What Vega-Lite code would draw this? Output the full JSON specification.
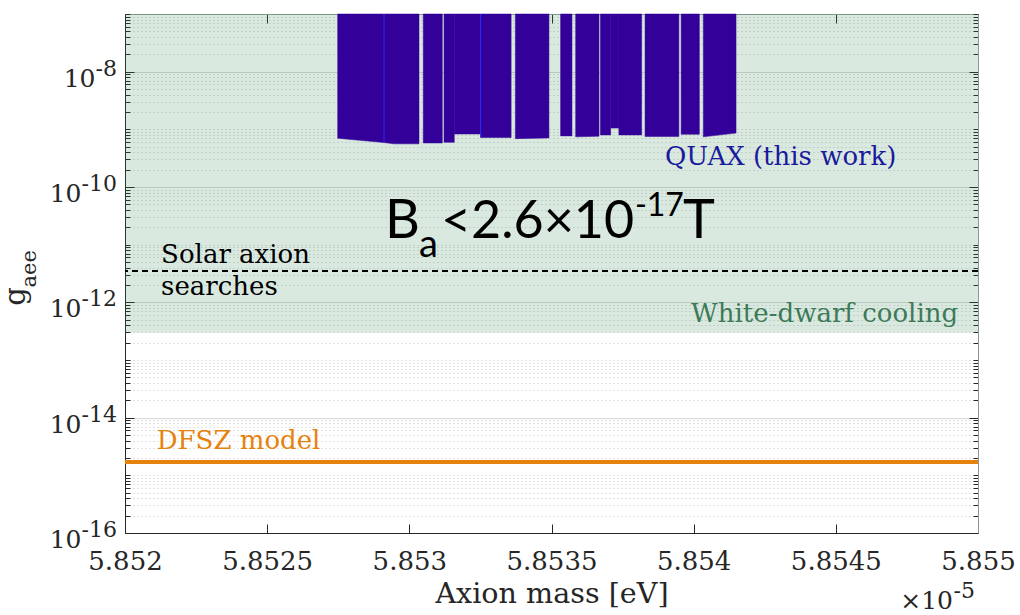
{
  "$schema": "https://vega.github.io/schema/vega-lite/v6.json",
  "autosize": "none",
  "width": 853,
  "height": 519,
  "padding": {"left": 125, "top": 14, "right": 42, "bottom": 82},
  "background": "white",
  "config": {"view": {"stroke": "#262626", "strokeWidth": 1}},
  "datasets": {
    "region": [{"m0": 5.852, "m1": 5.855, "g0": 3e-13, "g1": 1e-7}],
    "quax": [
      {"seg": "A", "m": 5.852748, "g": 7.0e-10, "gtop": 1e-7},
      {"seg": "A", "m": 5.852911, "g": 5.9e-10, "gtop": 1e-7},
      {"seg": "B", "m": 5.852911, "g": 5.9e-10, "gtop": 1e-7},
      {"seg": "B", "m": 5.852945, "g": 5.6e-10, "gtop": 1e-7},
      {"seg": "B", "m": 5.853034, "g": 5.6e-10, "gtop": 1e-7},
      {"seg": "C", "m": 5.853049, "g": 5.8e-10, "gtop": 1e-7},
      {"seg": "C", "m": 5.853116, "g": 5.8e-10, "gtop": 1e-7},
      {"seg": "D1", "m": 5.853122, "g": 5.95e-10, "gtop": 1e-7},
      {"seg": "D1", "m": 5.853158, "g": 5.95e-10, "gtop": 1e-7},
      {"seg": "D2", "m": 5.853158, "g": 8.3e-10, "gtop": 1e-7},
      {"seg": "D2", "m": 5.853251, "g": 8.3e-10, "gtop": 1e-7},
      {"seg": "E", "m": 5.853251, "g": 7.2e-10, "gtop": 1e-7},
      {"seg": "E", "m": 5.853358, "g": 7.2e-10, "gtop": 1e-7},
      {"seg": "F", "m": 5.853373, "g": 6.9e-10, "gtop": 1e-7},
      {"seg": "F", "m": 5.853491, "g": 7.1e-10, "gtop": 1e-7},
      {"seg": "G", "m": 5.853532, "g": 7.7e-10, "gtop": 1e-7},
      {"seg": "G", "m": 5.853572, "g": 7.7e-10, "gtop": 1e-7},
      {"seg": "H", "m": 5.853585, "g": 7.4e-10, "gtop": 1e-7},
      {"seg": "H", "m": 5.853667, "g": 7.6e-10, "gtop": 1e-7},
      {"seg": "I1", "m": 5.853672, "g": 8.0e-10, "gtop": 1e-7},
      {"seg": "I1", "m": 5.853708, "g": 8.0e-10, "gtop": 1e-7},
      {"seg": "I2", "m": 5.853708, "g": 1.05e-9, "gtop": 1e-7},
      {"seg": "I2", "m": 5.853737, "g": 1.05e-9, "gtop": 1e-7},
      {"seg": "I3", "m": 5.853737, "g": 8.0e-10, "gtop": 1e-7},
      {"seg": "I3", "m": 5.853817, "g": 8.0e-10, "gtop": 1e-7},
      {"seg": "J", "m": 5.853829, "g": 7.5e-10, "gtop": 1e-7},
      {"seg": "J", "m": 5.853948, "g": 7.5e-10, "gtop": 1e-7},
      {"seg": "K", "m": 5.853956, "g": 8.2e-10, "gtop": 1e-7},
      {"seg": "K", "m": 5.854020, "g": 8.2e-10, "gtop": 1e-7},
      {"seg": "L", "m": 5.854034, "g": 7.4e-10, "gtop": 1e-7},
      {"seg": "L", "m": 5.854149, "g": 8.6e-10, "gtop": 1e-7}
    ],
    "seams": [
      {"m": 5.852911, "g": 5.9e-10, "gtop": 1e-7},
      {"m": 5.853251, "g": 7.2e-10, "gtop": 1e-7}
    ],
    "lines": [
      {"name": "solar", "g": 3.5e-12},
      {"name": "dfsz", "g": 1.7e-15}
    ],
    "ylabels": [
      {"g": 1e-16, "exp": "-16"},
      {"g": 1e-14, "exp": "-14"},
      {"g": 1e-12, "exp": "-12"},
      {"g": 1e-10, "exp": "-10"},
      {"g": 1e-8, "exp": "-8"}
    ],
    "labels": [
      {"key": "quax", "text": "QUAX (this work)", "m": 5.853899, "g": 2.41e-10},
      {"key": "solar", "text": "Solar axion", "m": 5.852127, "g": 4.84e-12},
      {"key": "solar", "text": "searches", "m": 5.852127, "g": 1.35e-12},
      {"key": "wd", "text": "White-dwarf cooling", "m": 5.85493, "g": 4.5e-13},
      {"key": "dfsz", "text": "DFSZ model", "m": 5.8521115, "g": 2.89e-15},
      {"key": "ba", "text": "B", "m": 5.852914, "g": 1.31e-11},
      {"key": "mult", "text": "×10", "m": 5.855, "g": 1e-16},
      {"key": "ytitle", "text": "g", "m": 5.852, "g": 3.16e-12}
    ]
  },
  "layer": [
    {
      "data": {"name": "region"},
      "mark": {"type": "rect", "color": "#3c8c5a", "opacity": 0.19},
      "encoding": {
        "x": {
          "field": "m0", "type": "quantitative",
          "scale": {"domain": [5.852, 5.855], "nice": false, "zero": false},
          "axis": {
            "orient": "bottom",
            "values": [5.852, 5.8525, 5.853, 5.8535, 5.854, 5.8545, 5.855],
            "format": ".5~g",
            "grid": false,
            "tickSize": -9, "tickColor": "#262626", "domainColor": "#262626",
            "labelFont": "DejaVu Serif", "labelFontSize": 26, "labelColor": "#262626",
            "labelPadding": 24, "labelFlush": false, "labelOverlap": false,
            "title": "Axion mass [eV]", "titleFont": "DejaVu Serif", "titleFontSize": 28.6,
            "titleFontWeight": "normal", "titleColor": "#262626", "titlePadding": 5
          }
        },
        "x2": {"field": "m1"},
        "y": {
          "field": "g0", "type": "quantitative",
          "scale": {"type": "log", "domain": [1e-16, 1e-7], "nice": false},
          "axis": {
            "orient": "left",
            "values": [1e-16,2e-16,3e-16,4e-16,5e-16,6e-16,7e-16,8e-16,9e-16,
                       1e-15,2e-15,3e-15,4e-15,5e-15,6e-15,7e-15,8e-15,9e-15,
                       1e-14,2e-14,3e-14,4e-14,5e-14,6e-14,7e-14,8e-14,9e-14,
                       1e-13,2e-13,3e-13,4e-13,5e-13,6e-13,7e-13,8e-13,9e-13,
                       1e-12,2e-12,3e-12,4e-12,5e-12,6e-12,7e-12,8e-12,9e-12,
                       1e-11,2e-11,3e-11,4e-11,5e-11,6e-11,7e-11,8e-11,9e-11,
                       1e-10,2e-10,3e-10,4e-10,5e-10,6e-10,7e-10,8e-10,9e-10,
                       1e-9,2e-9,3e-9,4e-9,5e-9,6e-9,7e-9,8e-9,9e-9,
                       1e-8,2e-8,3e-8,4e-8,5e-8,6e-8,7e-8,8e-8,9e-8,1e-7],
            "labels": false,
            "title": null,
            "grid": true,
            "gridColor": {"condition": {"test": "abs(log(datum.value)/LN10-round(log(datum.value)/LN10))<1e-6 && round(log(datum.value)/LN10)%2==0", "value": "#d8d8d8"}, "value": "#c4c4c4"},
            "gridDash": {"condition": {"test": "abs(log(datum.value)/LN10-round(log(datum.value)/LN10))<1e-6 && round(log(datum.value)/LN10)%2==0", "value": []}, "value": [1, 3]},
            "gridWidth": 1,
            "tickSize": {"condition": {"test": "abs(log(datum.value)/LN10-round(log(datum.value)/LN10))<1e-6 && round(log(datum.value)/LN10)%2==0", "value": -9}, "value": -5},
            "tickColor": "#262626", "domainColor": "#262626"
          }
        },
        "y2": {"field": "g1"}
      }
    },
    {
      "data": {"name": "region"},
      "mark": {"type": "rect", "opacity": 0},
      "encoding": {
        "x": {
          "field": "m0", "type": "quantitative",
          "axis": {"orient": "top", "values": [5.852, 5.8525, 5.853, 5.8535, 5.854, 5.8545, 5.855],
                   "labels": false, "grid": false, "title": null, "tickSize": -9,
                   "tickColor": "#262626", "domainColor": "#8a9a8f"}
        },
        "x2": {"field": "m1"},
        "y": {
          "field": "g0", "type": "quantitative",
          "axis": {
            "orient": "right", "labels": false, "grid": false, "title": null,
            "values": [1e-16,2e-16,3e-16,4e-16,5e-16,6e-16,7e-16,8e-16,9e-16,
                       1e-15,2e-15,3e-15,4e-15,5e-15,6e-15,7e-15,8e-15,9e-15,
                       1e-14,2e-14,3e-14,4e-14,5e-14,6e-14,7e-14,8e-14,9e-14,
                       1e-13,2e-13,3e-13,4e-13,5e-13,6e-13,7e-13,8e-13,9e-13,
                       1e-12,2e-12,3e-12,4e-12,5e-12,6e-12,7e-12,8e-12,9e-12,
                       1e-11,2e-11,3e-11,4e-11,5e-11,6e-11,7e-11,8e-11,9e-11,
                       1e-10,2e-10,3e-10,4e-10,5e-10,6e-10,7e-10,8e-10,9e-10,
                       1e-9,2e-9,3e-9,4e-9,5e-9,6e-9,7e-9,8e-9,9e-9,
                       1e-8,2e-8,3e-8,4e-8,5e-8,6e-8,7e-8,8e-8,9e-8,1e-7],
            "tickSize": {"condition": {"test": "abs(log(datum.value)/LN10-round(log(datum.value)/LN10))<1e-6 && round(log(datum.value)/LN10)%2==0", "value": -9}, "value": -5},
            "tickColor": "#262626", "domainColor": "#8a9a8f"
          }
        },
        "y2": {"field": "g1"}
      }
    },
    {
      "data": {"name": "quax"},
      "mark": {"type": "area", "color": "#330099", "stroke": "#330099", "strokeWidth": 0.5, "opacity": 1},
      "encoding": {
        "x": {"field": "m", "type": "quantitative", "axis": null},
        "y": {"field": "g", "type": "quantitative", "axis": null},
        "y2": {"field": "gtop"},
        "detail": {"field": "seg", "type": "nominal"}
      }
    },
    {
      "data": {"name": "seams"},
      "mark": {"type": "rule", "color": "#2a2aff", "strokeWidth": 1},
      "encoding": {
        "x": {"field": "m", "type": "quantitative", "axis": null},
        "y": {"field": "g", "type": "quantitative", "axis": null},
        "y2": {"field": "gtop"}
      }
    },
    {
      "data": {"name": "lines"},
      "transform": [{"filter": "datum.name == 'solar'"}],
      "mark": {"type": "rule", "color": "#000000", "strokeWidth": 2, "strokeDash": [6, 4]},
      "encoding": {"y": {"field": "g", "type": "quantitative", "axis": null}}
    },
    {
      "data": {"name": "lines"},
      "transform": [{"filter": "datum.name == 'dfsz'"}],
      "mark": {"type": "rule", "color": "#e6820e", "strokeWidth": 4},
      "encoding": {"y": {"field": "g", "type": "quantitative", "axis": null}}
    },
    {
      "data": {"name": "ylabels"},
      "mark": {"type": "text", "font": "DejaVu Serif", "fontSize": 22, "color": "#262626", "align": "right", "baseline": "alphabetic", "dx": -8, "dy": 4},
      "encoding": {
        "x": {"datum": 5.852, "type": "quantitative", "axis": null},
        "y": {"field": "g", "type": "quantitative", "axis": null},
        "text": {"field": "exp"}
      }
    },
    {
      "data": {"name": "ylabels"},
      "transform": [{"filter": "length(datum.exp) == 3"}],
      "mark": {"type": "text", "font": "DejaVu Serif", "fontSize": 25, "color": "#262626", "align": "right", "baseline": "alphabetic", "dx": -43.5, "dy": 15},
      "encoding": {
        "x": {"datum": 5.852, "type": "quantitative", "axis": null},
        "y": {"field": "g", "type": "quantitative", "axis": null},
        "text": {"value": "10"}
      }
    },
    {
      "data": {"name": "ylabels"},
      "transform": [{"filter": "length(datum.exp) == 2"}],
      "mark": {"type": "text", "font": "DejaVu Serif", "fontSize": 25, "color": "#262626", "align": "right", "baseline": "alphabetic", "dx": -29.5, "dy": 15},
      "encoding": {
        "x": {"datum": 5.852, "type": "quantitative", "axis": null},
        "y": {"field": "g", "type": "quantitative", "axis": null},
        "text": {"value": "10"}
      }
    },
    {
      "data": {"name": "labels"},
      "transform": [{"filter": "datum.key == 'ytitle'"}],
      "mark": {"type": "text", "font": "DejaVu Serif", "fontSize": 29, "color": "#262626", "align": "center", "baseline": "alphabetic", "angle": 270, "dx": -23, "dy": -100},
      "encoding": {
        "x": {"field": "m", "type": "quantitative", "axis": null},
        "y": {"field": "g", "type": "quantitative", "axis": null},
        "text": {"field": "text"}
      }
    },
    {
      "data": {"name": "labels"},
      "transform": [{"filter": "datum.key == 'ytitle'"}],
      "mark": {"type": "text", "font": "DejaVu Serif", "fontSize": 21, "color": "#262626", "align": "left", "baseline": "alphabetic", "angle": 270, "dx": -14, "dy": -89},
      "encoding": {
        "x": {"field": "m", "type": "quantitative", "axis": null},
        "y": {"field": "g", "type": "quantitative", "axis": null},
        "text": {"value": "aee"}
      }
    },
    {
      "data": {"name": "labels"},
      "transform": [{"filter": "datum.key == 'quax'"}],
      "mark": {"type": "text", "font": "DejaVu Serif", "fontSize": 26, "color": "#1a1a9c", "align": "left", "baseline": "alphabetic"},
      "encoding": {
        "x": {"field": "m", "type": "quantitative", "axis": null},
        "y": {"field": "g", "type": "quantitative", "axis": null},
        "text": {"field": "text"}
      }
    },
    {
      "data": {"name": "labels"},
      "transform": [{"filter": "datum.key == 'solar'"}],
      "mark": {"type": "text", "font": "DejaVu Serif", "fontSize": 26, "color": "#000000", "align": "left", "baseline": "alphabetic"},
      "encoding": {
        "x": {"field": "m", "type": "quantitative", "axis": null},
        "y": {"field": "g", "type": "quantitative", "axis": null},
        "text": {"field": "text"}
      }
    },
    {
      "data": {"name": "labels"},
      "transform": [{"filter": "datum.key == 'wd'"}],
      "mark": {"type": "text", "font": "DejaVu Serif", "fontSize": 26, "color": "#3d7a58", "align": "right", "baseline": "alphabetic"},
      "encoding": {
        "x": {"field": "m", "type": "quantitative", "axis": null},
        "y": {"field": "g", "type": "quantitative", "axis": null},
        "text": {"field": "text"}
      }
    },
    {
      "data": {"name": "labels"},
      "transform": [{"filter": "datum.key == 'dfsz'"}],
      "mark": {"type": "text", "font": "DejaVu Serif", "fontSize": 26, "color": "#e6820e", "align": "left", "baseline": "alphabetic"},
      "encoding": {
        "x": {"field": "m", "type": "quantitative", "axis": null},
        "y": {"field": "g", "type": "quantitative", "axis": null},
        "text": {"field": "text"}
      }
    },
    {
      "data": {"name": "labels"},
      "transform": [{"filter": "datum.key == 'mult'"}],
      "mark": {"type": "text", "font": "DejaVu Serif", "fontSize": 25, "color": "#262626", "align": "right", "baseline": "alphabetic", "dy": 76, "dx": -25},
      "encoding": {
        "x": {"field": "m", "type": "quantitative", "axis": null},
        "y": {"field": "g", "type": "quantitative", "axis": null},
        "text": {"field": "text"}
      }
    },
    {
      "data": {"name": "labels"},
      "transform": [{"filter": "datum.key == 'mult'"}],
      "mark": {"type": "text", "font": "DejaVu Serif", "fontSize": 22, "color": "#262626", "align": "right", "baseline": "alphabetic", "dy": 65, "dx": -3},
      "encoding": {
        "x": {"field": "m", "type": "quantitative", "axis": null},
        "y": {"field": "g", "type": "quantitative", "axis": null},
        "text": {"value": "-5"}
      }
    },
    {
      "data": {"name": "labels"},
      "transform": [{"filter": "datum.key == 'ba'"}],
      "mark": {"type": "text", "font": "Lato", "fontSize": 54, "color": "#000000", "align": "left", "baseline": "alphabetic"},
      "encoding": {
        "x": {"field": "m", "type": "quantitative", "axis": null},
        "y": {"field": "g", "type": "quantitative", "axis": null},
        "text": {"value": "B"}
      }
    },
    {
      "data": {"name": "labels"},
      "transform": [{"filter": "datum.key == 'ba'"}],
      "mark": {"type": "text", "font": "Lato", "fontSize": 38, "color": "#000000", "align": "left", "baseline": "alphabetic", "dx": 34, "dy": 19},
      "encoding": {
        "x": {"field": "m", "type": "quantitative", "axis": null},
        "y": {"field": "g", "type": "quantitative", "axis": null},
        "text": {"value": "a"}
      }
    },
    {
      "data": {"name": "labels"},
      "transform": [{"filter": "datum.key == 'ba'"}],
      "mark": {"type": "text", "font": "Lato", "fontSize": 52, "color": "#000000", "align": "left", "baseline": "alphabetic", "dx": 56},
      "encoding": {
        "x": {"field": "m", "type": "quantitative", "axis": null},
        "y": {"field": "g", "type": "quantitative", "axis": null},
        "text": {"value": "<2.6×10"}
      }
    },
    {
      "data": {"name": "labels"},
      "transform": [{"filter": "datum.key == 'ba'"}],
      "mark": {"type": "text", "font": "Lato", "fontSize": 32, "color": "#000000", "align": "left", "baseline": "alphabetic", "dx": 250, "dy": -22},
      "encoding": {
        "x": {"field": "m", "type": "quantitative", "axis": null},
        "y": {"field": "g", "type": "quantitative", "axis": null},
        "text": {"value": "-17"}
      }
    },
    {
      "data": {"name": "labels"},
      "transform": [{"filter": "datum.key == 'ba'"}],
      "mark": {"type": "text", "font": "Lato", "fontSize": 54, "color": "#000000", "align": "left", "baseline": "alphabetic", "dx": 298},
      "encoding": {
        "x": {"field": "m", "type": "quantitative", "axis": null},
        "y": {"field": "g", "type": "quantitative", "axis": null},
        "text": {"value": "T"}
      }
    }
  ],
  "resolve": {"axis": {"x": "independent", "y": "independent"}}
}
